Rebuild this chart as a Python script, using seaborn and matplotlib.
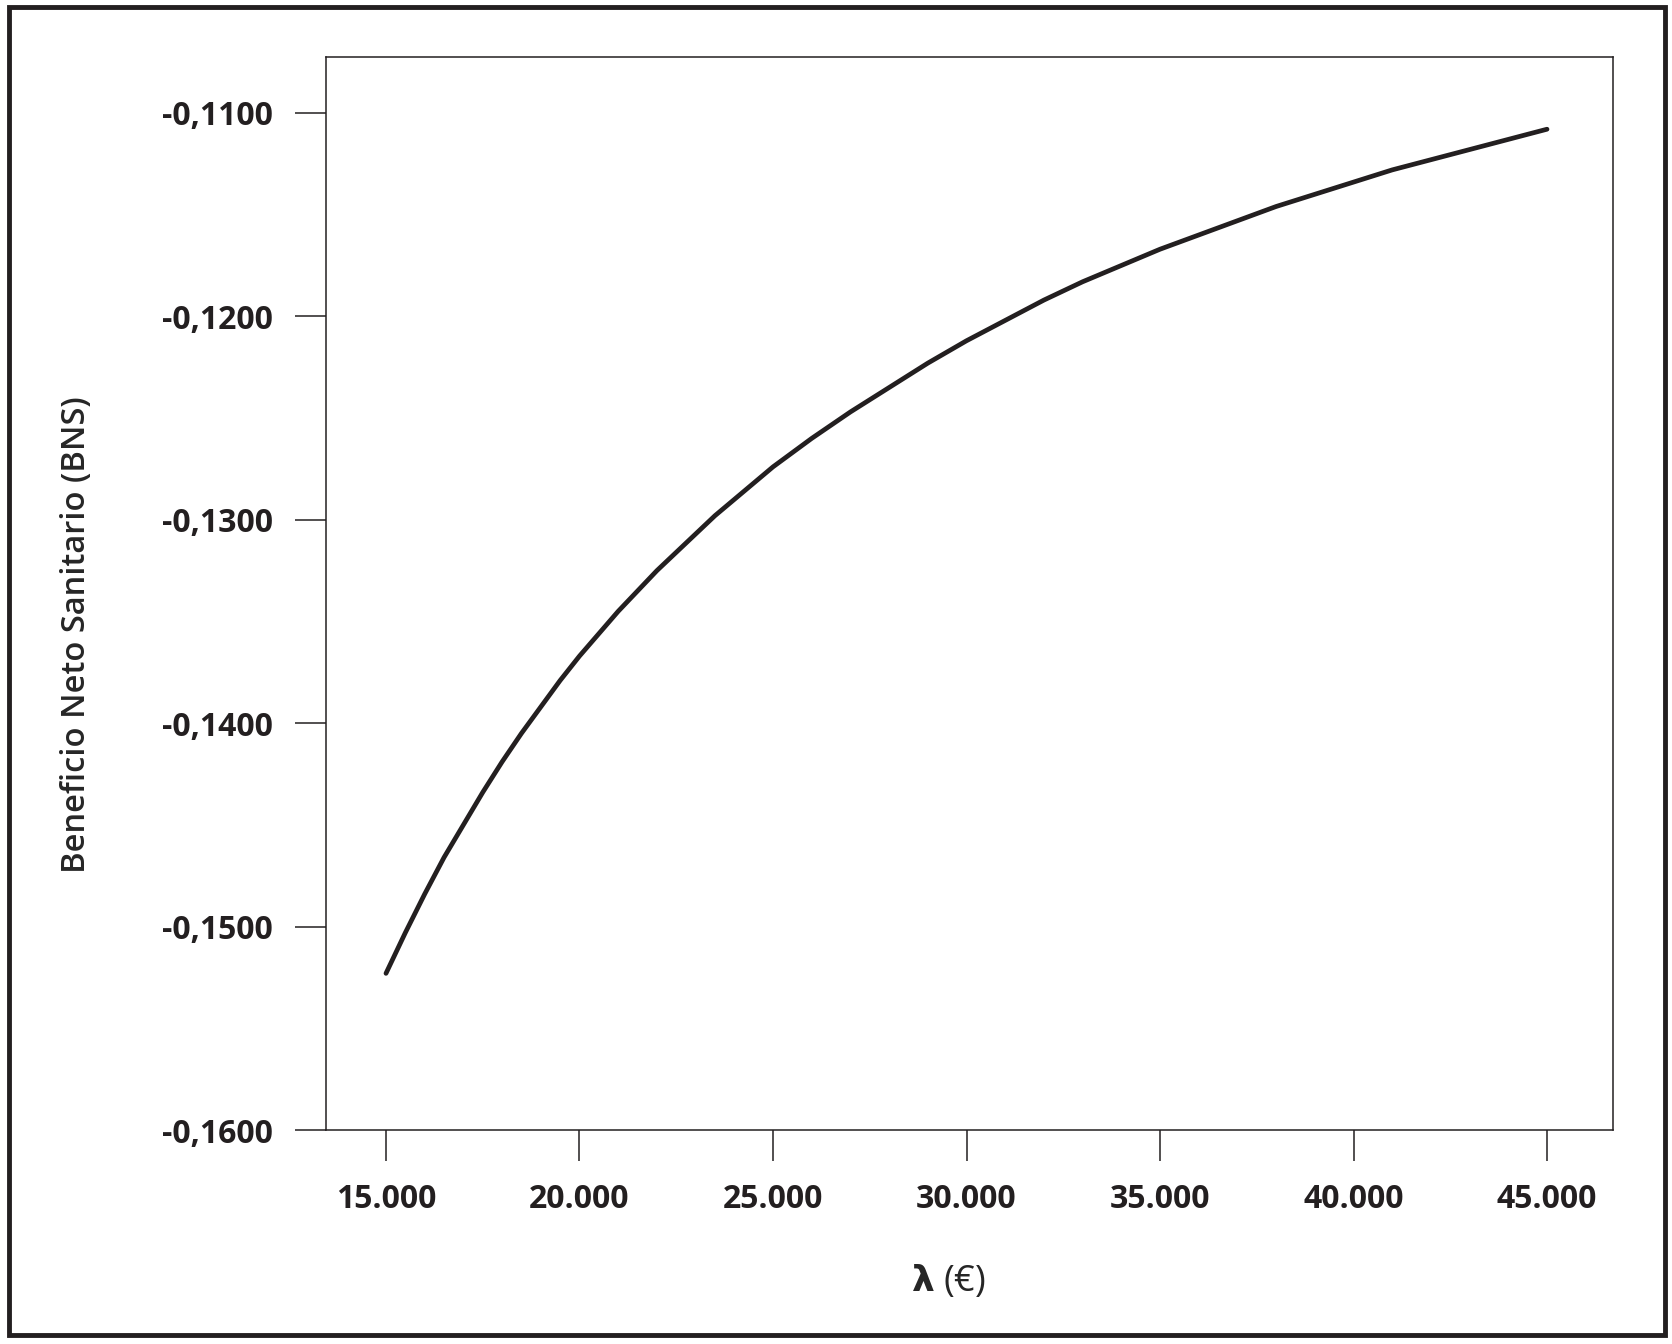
import numpy as np
import pandas as pd
import seaborn as sns
import matplotlib.pyplot as plt
from matplotlib.patches import Rectangle
from matplotlib.ticker import FuncFormatter

# willingness to pay (lambda, EUR) and net health benefit
lambdas = [15000, 15500, 16000, 16500, 17000, 17500, 18000, 18500, 19000, 19500,
           20000, 20500, 21000, 21500, 22000, 22500, 23000, 23500, 24000, 24500,
           25000, 26000, 27000, 28000, 29000, 30000, 31000, 32000, 33000, 34000,
           35000, 36000, 37000, 38000, 39000, 40000, 41000, 42000, 43000, 44000, 45000]
bns = [-0.1523, -0.1503, -0.1484, -0.1466, -0.1450, -0.1434, -0.1419, -0.1405,
       -0.1392, -0.1379, -0.1367, -0.1356, -0.1345, -0.1335, -0.1325, -0.1316,
       -0.1307, -0.1298, -0.1290, -0.1282, -0.1274, -0.1260, -0.1247, -0.1235,
       -0.1223, -0.1212, -0.1202, -0.1192, -0.1183, -0.1175, -0.1167, -0.1160,
       -0.1153, -0.1146, -0.1140, -0.1134, -0.1128, -0.1123, -0.1118, -0.1113, -0.1108]

x_ticks = [15000, 20000, 25000, 30000, 35000, 40000, 45000]
y_ticks = [-0.16, -0.15, -0.14, -0.13, -0.12, -0.11]

df = pd.DataFrame({'lambda': lambdas, 'BNS': bns})

sns.set_style('white')
plt.rcParams['font.family'] = ['Open Sans', 'DejaVu Sans']
plt.rcParams['text.color'] = '#231f20'

fig = plt.figure(figsize=(16.72, 13.44), dpi=100)
ax = fig.add_axes([326 / 1672, 1 - 1130 / 1344, (1613 - 326) / 1672, (1130 - 57) / 1344])

sns.lineplot(data=df, x='lambda', y='BNS', ax=ax, color='#231f20', linewidth=3.4,
             solid_joinstyle='round')

ax.set_xlim(13450, 46705)
ax.set_ylim(-0.16, -0.10725)
ax.set_xticks(x_ticks)
ax.set_yticks(y_ticks)
ax.xaxis.set_major_formatter(FuncFormatter(lambda v, p: f'{int(v):,}'.replace(',', '.')))
ax.yaxis.set_major_formatter(FuncFormatter(lambda v, p: f'{v:.4f}'.replace('.', ',')))

for s in ax.spines.values():
    s.set_color('#231f20')
    s.set_linewidth(1.1)

ax.tick_params(axis='both', direction='out', length=22, width=1.1, color='#231f20',
               labelsize=23, labelcolor='#231f20', bottom=True, left=True)
ax.tick_params(axis='y', pad=16)
ax.tick_params(axis='x', pad=16)
for lab in ax.get_xticklabels() + ax.get_yticklabels():
    lab.set_fontweight('bold')

ax.set_xlabel(r'$\mathbf{\lambda}$ (€)', fontsize=26)
ax.set_ylabel('Beneficio Neto Sanitario (BNS)', fontsize=23.5, fontweight=600)
ax.xaxis.set_label_coords(0.484, -0.124)
ax.yaxis.set_label_coords(-0.181, 0.462)

# outer frame around the whole figure
fig.patches.append(Rectangle((9 / 1672, 1 - 1335 / 1344), (1665 - 9) / 1672, (1335 - 7) / 1344,
                             transform=fig.transFigure, fill=False, edgecolor='#231f20',
                             linewidth=3.5))

fig.savefig('out.png', dpi=100, facecolor='white')
